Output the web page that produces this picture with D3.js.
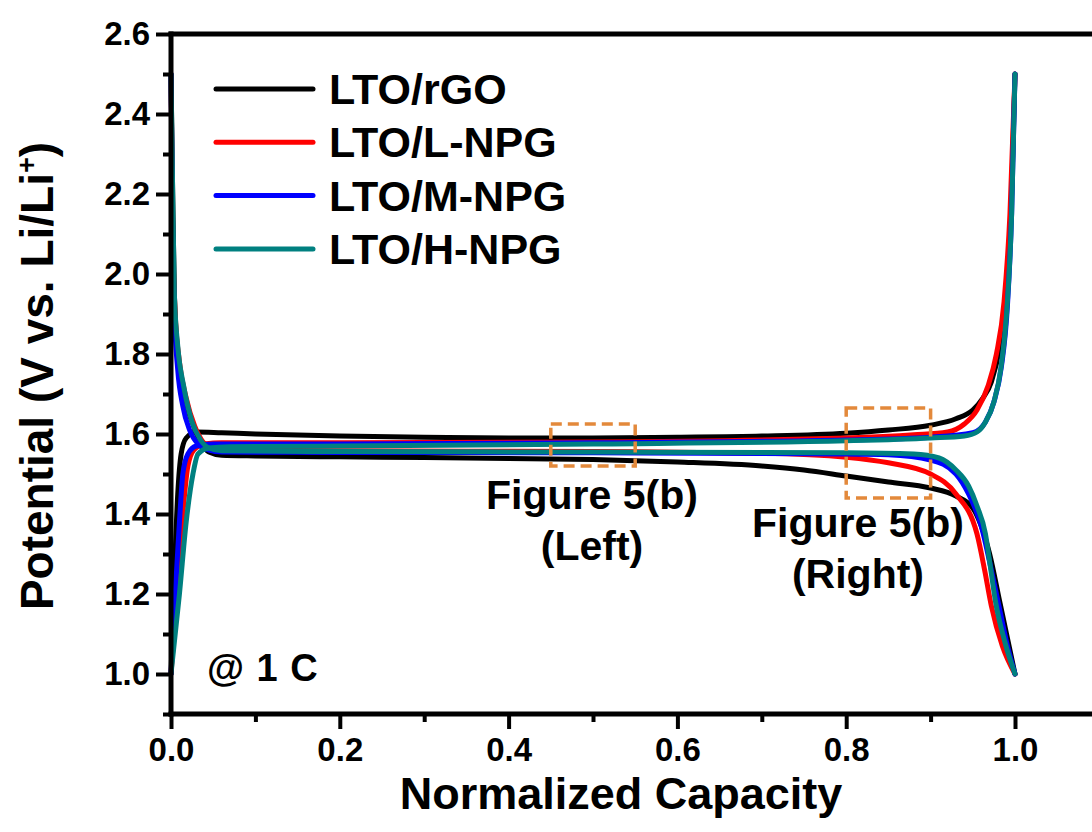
<!DOCTYPE html>
<html>
<head>
<meta charset="utf-8">
<script src="https://cdn.jsdelivr.net/npm/d3@7"></script>
<style>
  html, body { margin: 0; padding: 0; background: #fff; }
  svg { display: block; }
  text { font-family: "Liberation Sans", Arial, sans-serif; font-weight: bold; fill: #000; }
</style>
</head>
<body>
<svg id="chart" width="1092" height="832"></svg>
<script>
// Series labels and colours
const seriesNames = ["LTO/rGO", "LTO/L-NPG", "LTO/M-NPG", "LTO/H-NPG"];
const seriesColors = ["#000000", "#ff0000", "#0000ff", "#008080"];

// Charge curves: [normalized capacity, potential (V)]
const rgoCharge = [[0,1.0],[0.004,1.25],[0.008,1.45],[0.012,1.55],[0.018,1.59],[0.03,1.605],[0.06,1.603],[0.1,1.6],[0.2,1.595],[0.3,1.592],[0.4,1.59],[0.5,1.59],[0.6,1.592],[0.7,1.595],[0.8,1.602],[0.85,1.61],[0.9,1.622],[0.93,1.638],[0.95,1.66],[0.962,1.69],[0.972,1.73],[0.982,1.82],[0.99,1.96],[0.996,2.2],[1.0,2.5]];
const lnpgCharge = [[0,1.0],[0.007,1.2],[0.014,1.4],[0.02,1.52],[0.027,1.56],[0.04,1.575],[0.06,1.578],[0.2,1.578],[0.5,1.58],[0.8,1.59],[0.88,1.598],[0.92,1.605],[0.94,1.625],[0.955,1.66],[0.968,1.72],[0.978,1.8],[0.987,1.93],[0.994,2.15],[1.0,2.5]];
const mnpgCharge = [[0,1.0],[0.005,1.2],[0.01,1.38],[0.014,1.5],[0.02,1.55],[0.03,1.57],[0.05,1.575],[0.2,1.575],[0.5,1.578],[0.8,1.585],[0.9,1.592],[0.95,1.603],[0.965,1.63],[0.975,1.68],[0.984,1.77],[0.991,1.92],[0.996,2.15],[1.0,2.5]];
const hnpgCharge = [[0,1.0],[0.01,1.2],[0.018,1.38],[0.026,1.5],[0.032,1.55],[0.045,1.565],[0.07,1.568],[0.2,1.57],[0.5,1.575],[0.8,1.583],[0.9,1.59],[0.94,1.595],[0.955,1.605],[0.965,1.63],[0.975,1.68],[0.983,1.76],[0.99,1.9],[0.996,2.15],[1.0,2.5]];

// Discharge curves: [normalized capacity, potential (V)]
const rgoDischarge = [[0,2.5],[0.002,2.2],[0.004,1.95],[0.008,1.8],[0.015,1.7],[0.025,1.63],[0.035,1.58],[0.045,1.555],[0.06,1.547],[0.1,1.545],[0.2,1.543],[0.3,1.541],[0.4,1.539],[0.5,1.536],[0.6,1.53],[0.7,1.52],[0.75,1.51],[0.8,1.495],[0.85,1.48],[0.9,1.465],[0.93,1.445],[0.95,1.415],[0.96,1.37],[0.97,1.3],[0.982,1.18],[0.99,1.1],[1.0,1.0]];
const lnpgDischarge = [[0,2.5],[0.002,2.1],[0.005,1.9],[0.01,1.78],[0.018,1.69],[0.028,1.62],[0.038,1.58],[0.05,1.565],[0.07,1.56],[0.2,1.558],[0.5,1.556],[0.7,1.552],[0.8,1.542],[0.85,1.528],[0.9,1.5],[0.93,1.45],[0.955,1.35],[0.964,1.26],[0.972,1.17],[0.985,1.07],[1.0,1.0]];
const mnpgDischarge = [[0,2.5],[0.002,2.1],[0.004,1.9],[0.008,1.76],[0.014,1.67],[0.022,1.61],[0.032,1.575],[0.045,1.56],[0.06,1.555],[0.2,1.554],[0.5,1.553],[0.8,1.55],[0.85,1.548],[0.9,1.535],[0.93,1.5],[0.945,1.45],[0.96,1.37],[0.972,1.26],[0.98,1.18],[0.99,1.08],[1.0,1.0]];
const hnpgDischarge = [[0,2.5],[0.002,2.2],[0.004,1.95],[0.008,1.82],[0.015,1.72],[0.025,1.63],[0.035,1.585],[0.045,1.565],[0.06,1.558],[0.2,1.556],[0.5,1.555],[0.8,1.553],[0.88,1.55],[0.91,1.54],[0.93,1.51],[0.945,1.47],[0.955,1.42],[0.965,1.35],[0.97,1.28],[0.977,1.18],[0.988,1.08],[1.0,1.0]];

const chargeCurves = [rgoCharge, lnpgCharge, mnpgCharge, hnpgCharge];
const dischargeCurves = [rgoDischarge, lnpgDischarge, mnpgDischarge, hnpgDischarge];

// Tick values
const xMajorTicks = [0.0, 0.2, 0.4, 0.6, 0.8, 1.0];
const xMinorTicks = [0.1, 0.3, 0.5, 0.7, 0.9];
const yMajorTicks = [1.0, 1.2, 1.4, 1.6, 1.8, 2.0, 2.2, 2.4, 2.6];
const yMinorTicks = [0.9, 1.1, 1.3, 1.5, 1.7, 1.9, 2.1, 2.3, 2.5];

// Highlighted regions: [x0, x1, y0, y1] and their captions
const boxRegions = [[0.45, 0.55, 1.52, 1.625], [0.8, 0.9, 1.44, 1.665]];
const boxCaptions = [["Figure 5(b)", "(Left)"], ["Figure 5(b)", "(Right)"]];

const svg = d3.select("#chart");
const W = 1092;

const x = d3.scaleLinear().domain([0, 1.1]).range([171, 171 + 1.1 * 844]);
const y = d3.scaleLinear().domain([0.9, 2.6]).range([714, 34]);

const fmt = d3.format(".1f");

// Curves
const line = d3.line().x(d => x(d[0])).y(d => y(d[1])).curve(d3.curveMonotoneX);
const curves = svg.append("g").attr("fill", "none").attr("stroke-width", 5)
  .attr("stroke-linejoin", "round").attr("stroke-linecap", "round");
seriesNames.forEach((name, i) => {
  curves.append("path").datum(chargeCurves[i]).attr("d", line).attr("stroke", seriesColors[i]);
  curves.append("path").datum(dischargeCurves[i]).attr("d", line).attr("stroke", seriesColors[i]);
});

// Axes
function styleAxis(g) {
  g.select(".domain").remove();
  g.selectAll(".tick line").attr("stroke", "#000").attr("stroke-width", 4);
  g.selectAll(".tick text").attr("font-size", 33).attr("font-family", "'Liberation Sans', Arial, sans-serif").attr("font-weight", "bold");
}
const xAxisMajor = svg.append("g").attr("transform", `translate(0,${y(0.9)})`)
  .call(d3.axisBottom(x).tickValues(xMajorTicks).tickFormat(fmt).tickSize(15).tickPadding(9).tickSizeOuter(0));
styleAxis(xAxisMajor);
const xAxisMinor = svg.append("g").attr("transform", `translate(0,${y(0.9)})`)
  .call(d3.axisBottom(x).tickValues(xMinorTicks).tickFormat("").tickSize(8).tickSizeOuter(0));
styleAxis(xAxisMinor);

const yAxisMajor = svg.append("g").attr("transform", `translate(${x(0)},0)`)
  .call(d3.axisLeft(y).tickValues(yMajorTicks).tickFormat(fmt).tickSize(15).tickPadding(6).tickSizeOuter(0));
styleAxis(yAxisMajor);
const yAxisMinor = svg.append("g").attr("transform", `translate(${x(0)},0)`)
  .call(d3.axisLeft(y).tickValues(yMinorTicks).tickFormat("").tickSize(8).tickSizeOuter(0));
styleAxis(yAxisMinor);

// Frame: left, bottom and top borders
const frame = svg.append("g").attr("stroke", "#000").attr("stroke-width", 5).attr("stroke-linecap", "square");
frame.append("line").attr("x1", x(0)).attr("x2", x(0)).attr("y1", y(2.6)).attr("y2", y(0.9));
frame.append("line").attr("x1", x(0)).attr("x2", W + 5).attr("y1", y(0.9)).attr("y2", y(0.9));
frame.append("line").attr("x1", x(0)).attr("x2", W + 5).attr("y1", y(2.6)).attr("y2", y(2.6));

// Dashed boxes with captions
const boxes = svg.append("g");
boxRegions.forEach((b, i) => {
  boxes.append("rect")
    .attr("x", x(b[0])).attr("y", y(b[3]))
    .attr("width", x(b[1]) - x(b[0])).attr("height", y(b[2]) - y(b[3]))
    .attr("fill", "none").attr("stroke", "#e3893b").attr("stroke-width", 3.5)
    .attr("stroke-dasharray", "11,6");
});
const captionPos = [[592, 509, 560], [858, 537, 588]];
boxCaptions.forEach((lines, i) => {
  const t = boxes.append("text").attr("text-anchor", "middle").attr("font-size", 41);
  lines.forEach((s, k) => {
    t.append("tspan").attr("x", captionPos[i][0]).attr("y", captionPos[i][1 + k]).text(s);
  });
});

// Rate annotation
svg.append("text").attr("x", 207).attr("y", 681).attr("font-size", 38)
  .attr("letter-spacing", 1).text("@ 1 C");

// Legend
const legend = svg.append("g");
seriesNames.forEach((name, i) => {
  const ly = 89 + i * 53.3;
  legend.append("line").attr("x1", 216).attr("x2", 313).attr("y1", ly).attr("y2", ly)
    .attr("stroke", seriesColors[i]).attr("stroke-width", 5).attr("stroke-linecap", "round");
  legend.append("text").attr("x", 329).attr("y", ly + 15).attr("font-size", 43).text(name);
});

// Axis titles
svg.append("text").attr("x", 621).attr("y", 809).attr("text-anchor", "middle")
  .attr("font-size", 45).text("Normalized Capacity");
const yTitle = svg.append("text").attr("transform", "translate(53,376) rotate(-90)")
  .attr("text-anchor", "middle").attr("font-size", 46);
yTitle.append("tspan").text("Potential (V vs. Li/Li");
yTitle.append("tspan").attr("font-size", 27).attr("dy", -17).text("+");
yTitle.append("tspan").attr("dy", 17).text(")");
</script>
</body>
</html>
